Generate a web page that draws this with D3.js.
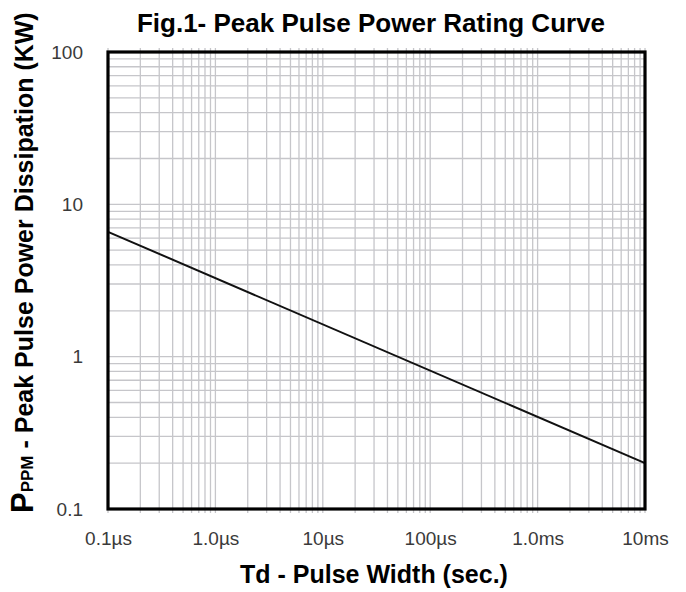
<!DOCTYPE html>
<html>
<head>
<meta charset="utf-8">
<script src="https://cdn.jsdelivr.net/npm/d3@7"></script>
<style>
  body { margin: 0; background: #fff; }
  svg { display: block; font-family: "Liberation Sans", Arial, sans-serif; }
</style>
</head>
<body>
<div id="chart"></div>
<script>
// Peak pulse power rating curve (log-log)
const xTicks = [1e-7, 1e-6, 1e-5, 1e-4, 1e-3, 1e-2];
const xTickLabels = ['0.1\u00b5s', '1.0\u00b5s', '10\u00b5s', '100\u00b5s', '1.0ms', '10ms'];
const yTicks = [0.1, 1, 10, 100];
const yTickLabels = ['0.1', '1', '10', '100'];
const pulseWidth = [1e-7, 1e-2];   // seconds
const peakPower = [6.6, 0.2];      // kW

const svgWidth = 686;
const svgHeight = 592;
const margin = {top: 52, right: 41, bottom: 83, left: 108};
const width = svgWidth - margin.left - margin.right;
const height = svgHeight - margin.top - margin.bottom;

const svg = d3.select('#chart').append('svg')
    .attr('width', svgWidth)
    .attr('height', svgHeight);

const g = svg.append('g')
    .attr('transform', `translate(${margin.left},${margin.top})`);

const x = d3.scaleLog().domain([1e-7, 1e-2]).range([0, width]);
const y = d3.scaleLog().domain([0.1, 100]).range([height, 0]);

// grid
g.append('g').selectAll('line')
    .data(x.ticks())
    .join('line')
    .attr('x1', d => x(d)).attr('x2', d => x(d))
    .attr('y1', -4).attr('y2', height + 4)
    .attr('stroke', '#c6c6ca')
    .attr('stroke-width', 1.3);
g.append('g').selectAll('line')
    .data(y.ticks())
    .join('line')
    .attr('x1', 0).attr('x2', width)
    .attr('y1', d => y(d)).attr('y2', d => y(d))
    .attr('stroke', '#c6c6ca')
    .attr('stroke-width', 1.3);

// curve
const line = d3.line()
    .x((d, i) => x(pulseWidth[i]))
    .y(d => y(d));
g.append('path')
    .datum(peakPower)
    .attr('d', line)
    .attr('fill', 'none')
    .attr('stroke', '#111')
    .attr('stroke-width', 2);

// frame
g.append('rect')
    .attr('width', width).attr('height', height)
    .attr('fill', 'none')
    .attr('stroke', '#000')
    .attr('stroke-width', 3.2);

// axes
const xAxis = g.append('g')
    .attr('transform', `translate(0,${height})`)
    .call(d3.axisBottom(x).tickValues(xTicks).tickFormat((d, i) => xTickLabels[i]).tickSize(0).tickPadding(23));
xAxis.select('.domain').remove();
xAxis.selectAll('text').attr('font-size', 19).attr('fill', '#3a3a3a').attr('font-family', 'Liberation Sans, Arial, sans-serif');

const yAxis = g.append('g')
    .call(d3.axisLeft(y).tickValues(yTicks).tickFormat((d, i) => yTickLabels[i]).tickSize(0).tickPadding(25));
yAxis.select('.domain').remove();
yAxis.selectAll('text').attr('font-size', 19).attr('fill', '#3a3a3a').attr('font-family', 'Liberation Sans, Arial, sans-serif');

// titles
svg.append('text')
    .attr('x', 371).attr('y', 32)
    .attr('text-anchor', 'middle')
    .attr('font-size', 26)
    .attr('font-weight', 'bold')
    .text('Fig.1- Peak Pulse Power Rating Curve');

svg.append('text')
    .attr('x', 374).attr('y', 583)
    .attr('text-anchor', 'middle')
    .attr('font-size', 25)
    .attr('font-weight', 'bold')
    .text('Td - Pulse Width (sec.)');

const yTitle = svg.append('text')
    .attr('transform', 'translate(33,513) rotate(-90)')
    .attr('font-weight', 'bold');
yTitle.append('tspan').attr('font-size', 31).text('P');
yTitle.append('tspan').attr('font-size', 17).text('PPM');
yTitle.append('tspan').attr('font-size', 25).text(' - Peak Pulse Power Dissipation  (KW)');
</script>
</body>
</html>
